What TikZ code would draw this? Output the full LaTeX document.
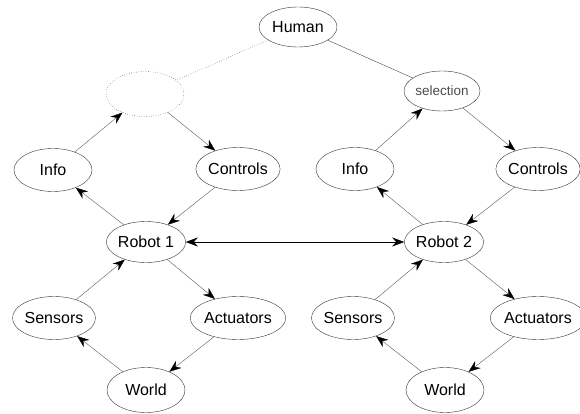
\documentclass[tikz,border=0pt]{standalone}
\usepackage{fontspec}
\setmainfont{Liberation Sans}
\usetikzlibrary{shapes.geometric,arrows.meta}
\begin{document}
\begin{tikzpicture}[x=1pt,y=-1pt,
  >={Stealth[length=12pt,width=9pt,inset=4pt,color=black]},
  state/.style={ellipse,draw=black!80,minimum width=78pt,minimum height=43pt,inner sep=0pt,font=\fontsize{16}{18}\selectfont},
  link/.style={draw=black!65,->}]
\useasboundingbox (0,0) rectangle (580,414);
\node[state,minimum height=40pt] (human) at (298,27) {Human};
\node[state,draw=black,dotted,minimum height=45pt] (hidden) at (145,94) {};
\node[state,minimum width=76pt,minimum height=40pt,text=black!70,font=\fontsize{13.5}{15}\selectfont] (selection) at (442,91) {selection};
\node[state] (info-one) at (53,170) {Info};
\node[state] (controls-one) at (238,169) {Controls};
\node[state,minimum height=41pt] (robot-one) at (146,242) {Robot 1};
\node[state] (sensors-one) at (54,318) {Sensors};
\node[state] (actuators-one) at (238,318) {Actuators};
\node[state,minimum height=45pt] (world-one) at (146,390) {World};
\node[state] (info-two) at (355,169) {Info};
\node[state] (controls-two) at (538,169) {Controls};
\node[state,minimum height=41pt] (robot-two) at (444,242) {Robot 2};
\node[state] (sensors-two) at (353,318) {Sensors};
\node[state] (actuators-two) at (538,318) {Actuators};
\node[state,minimum height=45pt] (world-two) at (445,390) {World};
\draw[black,dotted] (human) -- (hidden);
\draw[black!70] (human) -- (selection);
\draw[link] (info-one) -- (hidden);
\draw[link] (hidden) -- (controls-one);
\draw[link] (controls-one) -- (robot-one);
\draw[link] (robot-one) -- (info-one);
\draw[link] (robot-one) -- (actuators-one);
\draw[link] (actuators-one) -- (world-one);
\draw[link] (world-one) -- (sensors-one);
\draw[link] (sensors-one) -- (robot-one);
\draw[link] (info-two) -- (selection);
\draw[link] (selection) -- (controls-two);
\draw[link] (controls-two) -- (robot-two);
\draw[link] (robot-two) -- (info-two);
\draw[link] (robot-two) -- (actuators-two);
\draw[link] (actuators-two) -- (world-two);
\draw[link] (world-two) -- (sensors-two);
\draw[link] (sensors-two) -- (robot-two);
\draw[<->] (robot-one) -- (robot-two);
\end{tikzpicture}
\end{document}
